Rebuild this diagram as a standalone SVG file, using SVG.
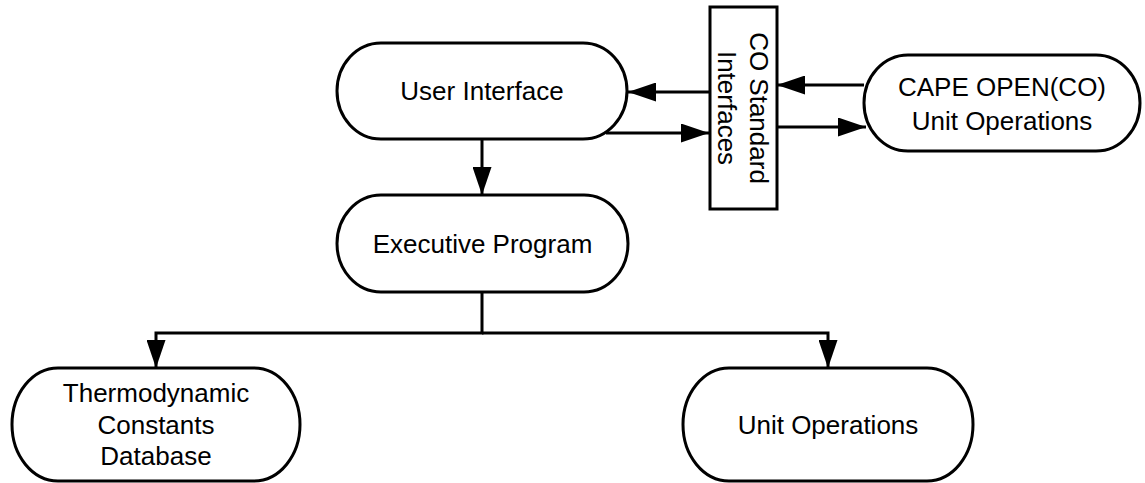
<svg xmlns="http://www.w3.org/2000/svg" width="1145" height="483" viewBox="0 0 1145 483">
  <style>
    .shape { fill: #ffffff; stroke: #000000; stroke-width: 3; }
    .label { font-family: "Liberation Sans", Arial, sans-serif; font-size: 26px; fill: #000000; text-anchor: middle; }
    .wire { fill: none; stroke: #000000; stroke-width: 3; marker-end: url(#head); }
  </style>
  <defs>
    <marker id="head" markerUnits="userSpaceOnUse" markerWidth="28" markerHeight="19" refX="28" refY="9.5" orient="auto" viewBox="0 0 28 19">
      <path d="M0,0 L28,9.5 L0,19 Z" fill="#000000"/>
    </marker>
  </defs>

  <!-- connectors -->
  <g id="connectors">
    <path class="wire" d="M710,92 L628,92"/>
    <path class="wire" d="M606,133 L709,133"/>
    <path class="wire" d="M864,85 L777,85"/>
    <path class="wire" d="M777,127 L866,127"/>
    <path class="wire" d="M482,139 L482,195"/>
    <path class="wire" d="M482,292 L482,333 L156,333 L156,368"/>
    <path class="wire" d="M482,333 L828,333 L828,368"/>
  </g>

  <g id="user-interface">
    <rect class="shape" x="337" y="43" width="290" height="96" rx="44" ry="48"/>
    <text class="label" x="482" y="100">User Interface</text>
  </g>

  <g id="executive-program">
    <rect class="shape" x="337" y="195" width="291" height="97" rx="44" ry="48.5"/>
    <text class="label" x="482.5" y="253">Executive Program</text>
  </g>

  <g id="co-standard-interfaces">
    <rect class="shape" x="710" y="7" width="67" height="202"/>
    <g transform="translate(743.5,108) rotate(90)">
      <text class="label" x="0" y="-6.5">CO Standard</text>
      <text class="label" x="0" y="25.5">Interfaces</text>
    </g>
  </g>

  <g id="cape-open-unit-operations">
    <rect class="shape" x="864" y="55" width="276" height="96" rx="44" ry="48"/>
    <text class="label" x="1002" y="96">CAPE OPEN(CO)</text>
    <text class="label" x="1002" y="130">Unit Operations</text>
  </g>

  <g id="thermodynamic-constants-database">
    <rect class="shape" x="12" y="368" width="288" height="113" rx="46" ry="56.5"/>
    <text class="label" x="156" y="402">Thermodynamic</text>
    <text class="label" x="156" y="433.5">Constants</text>
    <text class="label" x="156" y="465">Database</text>
  </g>

  <g id="unit-operations">
    <rect class="shape" x="683" y="368" width="290" height="113" rx="46" ry="56.5"/>
    <text class="label" x="828" y="434">Unit Operations</text>
  </g>
</svg>
